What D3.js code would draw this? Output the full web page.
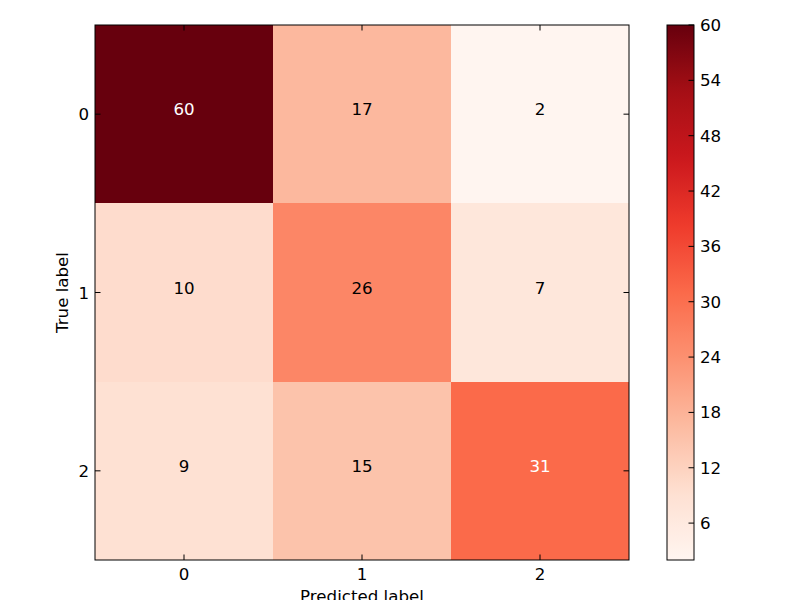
<!DOCTYPE html>
<html>
<head>
<meta charset="utf-8">
<script src="https://cdn.jsdelivr.net/npm/d3@7"></script>
<style>
  body { margin: 0; background: #fff; }
  text { font-family: "DejaVu Sans", sans-serif; font-size: 16.67px; fill: #000; }
</style>
</head>
<body>
<svg width="800" height="600"></svg>
<script>
const trueLabels = [0, 1, 2];
const predLabels = [0, 1, 2];
const matrix = [
  [60, 17, 2],
  [10, 26, 7],
  [9, 15, 31],
];
const colorbarTicks = [6, 12, 18, 24, 30, 36, 42, 48, 54, 60];
// matplotlib "Reds" control colours
const redsColors = ['#fff5f0', '#fee0d2', '#fcbba1', '#fc9272', '#fb6a4a', '#ef3b2c', '#cb181d', '#a50f15', '#67000d'];

const cells = [];
matrix.forEach((row, i) => row.forEach((v, j) => cells.push({ i, j, v })));

const vmin = d3.min(cells, (d) => d.v);
const vmax = d3.max(cells, (d) => d.v);

const AX = { left: 95, right: 629, top: 25, bottom: 560 };
const CB = { left: 667, right: 694, top: 25, bottom: 560 };
const TICK = 5.5;

const x = d3.scaleBand().domain(predLabels).range([AX.left, AX.right]);
const y = d3.scaleBand().domain(trueLabels).range([AX.top, AX.bottom]);

const norm = d3.scaleLinear().domain([vmin, vmax]).range([0, 1]);
const reds = d3
  .scaleLinear()
  .domain(redsColors.map((c, k) => k / (redsColors.length - 1)))
  .range(redsColors)
  .interpolate(d3.interpolateRgb);
const color = (v) => reds(norm(v));

const svg = d3.select('svg');

// heatmap cells
svg
  .selectAll('.cell')
  .data(cells)
  .enter()
  .append('rect')
  .classed('cell', true)
  .attr('x', (d) => x(d.j))
  .attr('y', (d) => y(d.i))
  .attr('width', x.bandwidth())
  .attr('height', y.bandwidth())
  .attr('fill', (d) => color(d.v))
  .attr('shape-rendering', 'crispEdges');

// cell values
const thresh = vmax / 2;
svg
  .selectAll('.val')
  .data(cells)
  .enter()
  .append('text')
  .classed('val', true)
  .attr('x', (d) => x(d.j) + x.bandwidth() / 2)
  .attr('y', (d) => y(d.i) + y.bandwidth() / 2 + 1)
  .attr('text-anchor', 'middle')
  .style('fill', (d) => (d.v > thresh ? '#fff' : '#000'))
  .text((d) => d.v);

// axes frame
svg
  .append('rect')
  .attr('x', AX.left)
  .attr('y', AX.top)
  .attr('width', AX.right - AX.left)
  .attr('height', AX.bottom - AX.top)
  .attr('fill', 'none')
  .attr('stroke', '#000')
  .attr('stroke-width', 1);

// inward ticks on all four sides (classic style)
const ticks = svg.append('g').attr('stroke', '#000').attr('stroke-width', 1);
predLabels.forEach((p) => {
  const cx = x(p) + x.bandwidth() / 2;
  ticks.append('line').attr('x1', cx).attr('x2', cx).attr('y1', AX.bottom).attr('y2', AX.bottom - TICK);
  ticks.append('line').attr('x1', cx).attr('x2', cx).attr('y1', AX.top).attr('y2', AX.top + TICK);
});
trueLabels.forEach((t) => {
  const cy = y(t) + y.bandwidth() / 2;
  ticks.append('line').attr('y1', cy).attr('y2', cy).attr('x1', AX.left).attr('x2', AX.left + TICK);
  ticks.append('line').attr('y1', cy).attr('y2', cy).attr('x1', AX.right).attr('x2', AX.right - TICK);
});

// tick labels
svg
  .selectAll('.xtick')
  .data(predLabels)
  .enter()
  .append('text')
  .attr('x', (d) => x(d) + x.bandwidth() / 2)
  .attr('y', AX.bottom + 20)
  .attr('text-anchor', 'middle')
  .text((d) => d);

svg
  .selectAll('.ytick')
  .data(trueLabels)
  .enter()
  .append('text')
  .attr('x', AX.left - 6)
  .attr('y', (d) => y(d) + y.bandwidth() / 2 + 6)
  .attr('text-anchor', 'end')
  .text((d) => d);

// axis titles
svg
  .append('text')
  .attr('x', (AX.left + AX.right) / 2)
  .attr('y', 602)
  .attr('text-anchor', 'middle')
  .text('Predicted label');

svg
  .append('text')
  .attr('transform', `translate(67.5, ${(AX.top + AX.bottom) / 2}) rotate(-90)`)
  .attr('text-anchor', 'middle')
  .text('True label');

// colorbar
const cbScale = d3.scaleLinear().domain([vmin, vmax]).range([CB.bottom, CB.top]);

const grad = svg
  .append('defs')
  .append('linearGradient')
  .attr('id', 'cbgrad')
  .attr('x1', 0)
  .attr('x2', 0)
  .attr('y1', 1)
  .attr('y2', 0);
grad
  .selectAll('stop')
  .data(d3.range(0, 1.0001, 0.02))
  .enter()
  .append('stop')
  .attr('offset', (t) => t)
  .attr('stop-color', (t) => reds(t));

svg
  .append('rect')
  .attr('x', CB.left)
  .attr('y', CB.top)
  .attr('width', CB.right - CB.left)
  .attr('height', CB.bottom - CB.top)
  .attr('fill', 'url(#cbgrad)')
  .attr('stroke', '#000')
  .attr('stroke-width', 1);

const cbTicks = svg.append('g');
cbTicks
  .selectAll('line')
  .data(colorbarTicks)
  .enter()
  .append('line')
  .attr('x1', CB.right)
  .attr('x2', CB.right - TICK)
  .attr('y1', (d) => cbScale(d))
  .attr('y2', (d) => cbScale(d))
  .attr('stroke', '#000');

cbTicks
  .selectAll('text')
  .data(colorbarTicks)
  .enter()
  .append('text')
  .attr('x', CB.right + 6)
  .attr('y', (d) => cbScale(d) + 6)
  .text((d) => d);
</script>
</body>
</html>
